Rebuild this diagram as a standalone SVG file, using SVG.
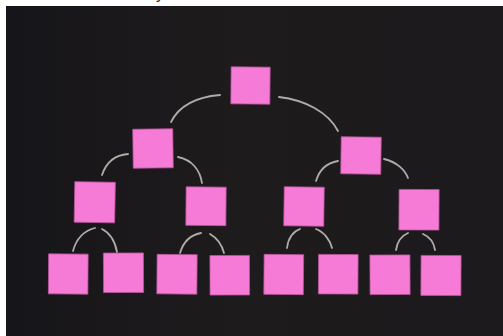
<svg xmlns="http://www.w3.org/2000/svg" width="503" height="336" viewBox="0 0 503 336">
<style>
.note{fill:#f67bd7;stroke:#b8559b;stroke-width:0.8}
.chalk{fill:none;stroke:#c9c5c1;stroke-width:1.8;stroke-linecap:round;opacity:0.85}
</style>
<defs>
<linearGradient id="bg" x1="0" y1="0" x2="1" y2="0">
<stop offset="0" stop-color="#161519"/>
<stop offset="0.45" stop-color="#1e1b1c"/>
<stop offset="1" stop-color="#1c1a1d"/>
</linearGradient>
</defs>
<rect x="0" y="0" width="503" height="336" fill="#ffffff"/>
<text x="156" y="-1" font-family="Liberation Sans, sans-serif" font-size="16" fill="#333333">y</text>
<rect x="6" y="6" width="497" height="330" fill="url(#bg)"/>
<g id="connectors">
<path class="chalk" d="M220 95 C196 97 179 106 171 122"/>
<path class="chalk" d="M279 97 C305 100 328 112 338 131"/>
<path class="chalk" d="M128 154 C115 155 106 163 102 175"/>
<path class="chalk" d="M178 157 C192 160 200 170 202 183"/>
<path class="chalk" d="M338 161 C326 163 319 171 316 181"/>
<path class="chalk" d="M384 159 C397 162 405 170 408 178"/>
<path class="chalk" d="M95 228 C83 231 76 240 73 251"/>
<path class="chalk" d="M102 229 C110 233 115 241 117 252"/>
<path class="chalk" d="M201 233 C190 235 183 243 180 253"/>
<path class="chalk" d="M210 234 C217 238 222 245 224 253"/>
<path class="chalk" d="M300 229 C292 232 288 240 287 248"/>
<path class="chalk" d="M316 229 C324 232 330 240 332 248"/>
<path class="chalk" d="M408 233 C401 236 397 243 396 250"/>
<path class="chalk" d="M423 234 C430 237 434 243 435 250"/>
</g>
<g id="n0"><rect class="note" x="231" y="67" width="39" height="37" transform="rotate(0.5 250 85)"/></g>
<g id="n1"><rect class="note" x="133" y="129" width="40" height="39" transform="rotate(-0.8 153 148)"/></g>
<g id="n2"><rect class="note" x="341" y="137" width="40" height="37" transform="rotate(0.8 361 155)"/></g>
<g id="n3"><rect class="note" x="74.5" y="182" width="40.5" height="40.5" transform="rotate(1 95 202)"/></g>
<g id="n4"><rect class="note" x="186" y="187" width="40" height="38.5" transform="rotate(0.5 206 206)"/></g>
<g id="n5"><rect class="note" x="284" y="187" width="40" height="39" transform="rotate(0.8 304 206)"/></g>
<g id="n6"><rect class="note" x="399" y="189.5" width="40" height="40.5" transform="rotate(0.3 419 210)"/></g>
<g id="n7"><rect class="note" x="48.5" y="254" width="39.5" height="40" transform="rotate(0.4 68 274)"/></g>
<g id="n8"><rect class="note" x="103.5" y="253" width="40" height="39.5" transform="rotate(-0.3 123 273)"/></g>
<g id="n9"><rect class="note" x="157" y="254.5" width="40" height="39.5" transform="rotate(0.5 177 274)"/></g>
<g id="n10"><rect class="note" x="210" y="255.5" width="39.5" height="39.5" transform="rotate(-0.2 230 275)"/></g>
<g id="n11"><rect class="note" x="264" y="254.5" width="39.5" height="40" transform="rotate(0.5 284 274)"/></g>
<g id="n12"><rect class="note" x="318.5" y="254.5" width="39.5" height="39.5" transform="rotate(0.3 338 274)"/></g>
<g id="n13"><rect class="note" x="370" y="255" width="40" height="39.5" transform="rotate(-0.3 390 275)"/></g>
<g id="n14"><rect class="note" x="421" y="255.5" width="40" height="40" transform="rotate(0.3 441 275)"/></g>
</svg>
